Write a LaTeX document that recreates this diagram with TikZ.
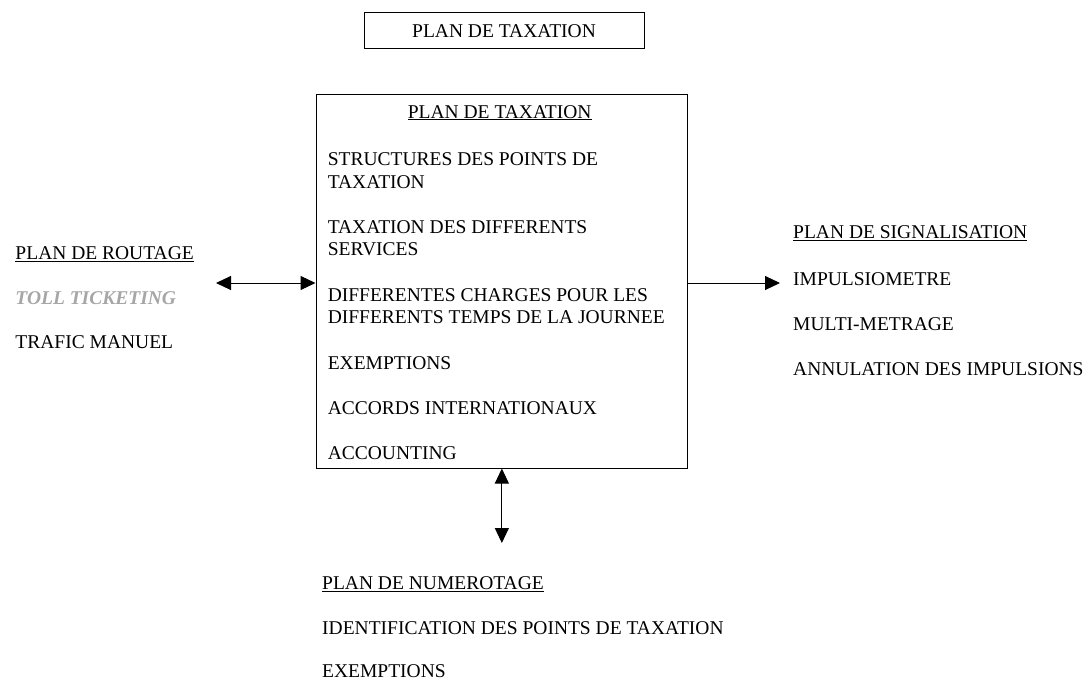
\documentclass[tikz,border=0pt]{standalone}
\usepackage{fontspec}
\setmainfont{Liberation Serif}
\usetikzlibrary{arrows.meta}
\usepackage{xcolor}
\definecolor{grisclair}{RGB}{166,166,166}
\tikzset{
  texte/.style={anchor=base west, inner sep=0pt},
  cadre/.style={draw, inner sep=0pt},
}

\begin{document}
\begin{tikzpicture}[x=1pt,y=-1pt,line width=1pt,
  every node/.style={font=\fontsize{19.5}{22.5}\selectfont},
  >={Triangle[length=15pt,width=14pt]}]
\useasboundingbox (0,0) rectangle (1089,682);
\node[cadre,minimum width=280pt,minimum height=36pt] (titre) at (504,30.8) {PLAN DE TAXATION};
\node[cadre,minimum width=371.7pt,minimum height=373pt] (taxation) at (501.85,281.5) {};
\node[anchor=base,inner sep=0pt] (taxation-titre) at (499.7,118) {\underline{PLAN DE TAXATION}};
\foreach \ligne/\y [count=\i] in {STRUCTURES DES POINTS DE/165.5, TAXATION/188.2,
    TAXATION DES DIFFERENTS/233.2, SERVICES/255.8,
    DIFFERENTES CHARGES POUR LES/301.5, DIFFERENTS TEMPS DE LA JOURNEE/323.8,
    EXEMPTIONS/369.3, ACCORDS INTERNATIONAUX/414.2, ACCOUNTING/459.8} {
	\node[texte] (taxation-\i) at (327.3,\y) {\ligne};
}
% routage
\node[texte] (routage-titre) at (15,259.5) {\underline{PLAN DE ROUTAGE}};
\node[texte,text=grisclair] (routage-1) at (15,304.2) {\bfseries\itshape TOLL TICKETING};
\node[texte] (routage-2) at (15,348.2) {TRAFIC MANUEL};
% signalisation
\node[texte] (signal-titre) at (792.7,238.2) {\underline{PLAN DE SIGNALISATION}};
\foreach \ligne/\y [count=\i] in {IMPULSIOMETRE/285.5, MULTI-METRAGE/330.8, ANNULATION DES IMPULSIONS/375.2} {
	\node[texte] (signal-\i) at (792.7,\y) {\ligne};
}
% numerotage
\node[texte] (numero-titre) at (321.7,589.5) {\underline{PLAN DE NUMEROTAGE}};
\node[texte] (numero-1) at (321.7,634.5) {IDENTIFICATION DES POINTS DE TAXATION};
\node[texte] (numero-2) at (321.7,677.5) {EXEMPTIONS};
\coordinate (routage-bout) at (216,283);
\coordinate (signal-bout) at (780,283);
\coordinate (numero-bout) at (taxation.south |- 0,543);
\draw[<->] (routage-bout) -- (taxation.west |- routage-bout);
\draw[->] (taxation.east |- signal-bout) -- (signal-bout);
\draw[<->] (taxation.south) -- (numero-bout);
\end{tikzpicture}
\end{document}
